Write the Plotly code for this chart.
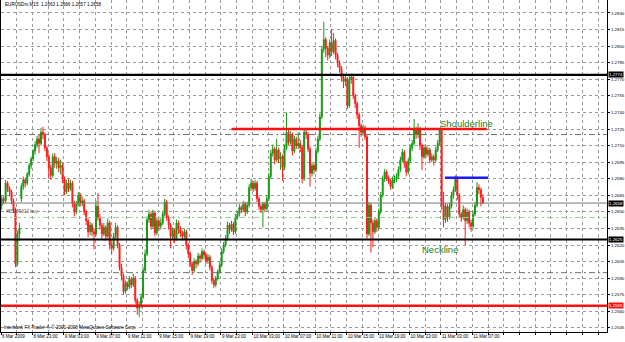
import plotly.graph_objects as go

# ---------------- data (EURUSDm, M15) ----------------
bar_open = [
    1.2656, 1.2662, 1.2660, 1.2676, 1.2671, 1.2668, 1.2660, 1.2652, 1.2603, 1.2630,
    1.2662, 1.2673, 1.2679, 1.2676, 1.2684, 1.2692, 1.2698, 1.2705, 1.2711, 1.2716,
    1.2712, 1.2722, 1.2720, 1.2708, 1.2700, 1.2690, 1.2683, 1.2700, 1.2694, 1.2696,
    1.2690, 1.2692, 1.2680, 1.2668, 1.2676, 1.2671, 1.2676, 1.2658, 1.2650, 1.2657,
    1.2665, 1.2658, 1.2660, 1.2650, 1.2642, 1.2632, 1.2638, 1.2632, 1.2630, 1.2655,
    1.2645, 1.2638, 1.2630, 1.2636, 1.2628, 1.2640, 1.2620, 1.2617, 1.2628, 1.2636,
    1.2620, 1.2600, 1.2592, 1.2578, 1.2585, 1.2582, 1.2589, 1.2584, 1.2590, 1.2570,
    1.2563, 1.2566, 1.2573, 1.2597, 1.2612, 1.2643, 1.2648, 1.2637, 1.2649, 1.2631,
    1.2642, 1.2637, 1.2640, 1.2648, 1.2659, 1.2645, 1.2638, 1.2628, 1.2633, 1.2626,
    1.2640, 1.2634, 1.2631, 1.2628, 1.2632, 1.2620, 1.2612, 1.2603, 1.2597, 1.2605,
    1.2603, 1.2610, 1.2608, 1.2614, 1.2611, 1.2606, 1.2609, 1.2600, 1.2588, 1.2584,
    1.2590, 1.2596, 1.2602, 1.2614, 1.2620, 1.2626, 1.2638, 1.2634, 1.2639, 1.2632,
    1.2645, 1.2648, 1.2654, 1.2652, 1.2657, 1.2650, 1.2656, 1.2672, 1.2676, 1.2671,
    1.2676, 1.2662, 1.2655, 1.2652, 1.2657, 1.2653, 1.2662, 1.2682, 1.2703, 1.2707,
    1.2697, 1.2706, 1.2698, 1.2700, 1.2690, 1.2708, 1.2722, 1.2713, 1.2720, 1.2705,
    1.2716, 1.2710, 1.2712, 1.2708, 1.2680, 1.2722, 1.2720, 1.2707, 1.2685, 1.2692,
    1.2688, 1.2705, 1.2716, 1.2736, 1.2797, 1.2806, 1.2798, 1.2792, 1.2803, 1.2795,
    1.2805, 1.2792, 1.2785, 1.2780, 1.2772, 1.2768, 1.2770, 1.2746, 1.2770, 1.2772,
    1.2755, 1.2748, 1.2738, 1.2728, 1.2722, 1.2726, 1.2718, 1.2630, 1.2656, 1.2640,
    1.2632, 1.2642, 1.2636, 1.2650, 1.2665, 1.2680, 1.2686, 1.2681, 1.2678, 1.2673,
    1.2679, 1.2680, 1.2682, 1.2688, 1.2697, 1.2704, 1.2694, 1.2686, 1.2696, 1.2708,
    1.2712, 1.2724, 1.2720, 1.2725, 1.2710, 1.2700, 1.2708, 1.2702, 1.2706, 1.2697,
    1.2700, 1.2697, 1.2706, 1.2712, 1.2724, 1.2656, 1.2643, 1.2655, 1.2645, 1.2655,
    1.2665, 1.2670, 1.2680, 1.2665, 1.2648, 1.2645, 1.2652, 1.2642, 1.2650, 1.2640,
    1.2637, 1.2648, 1.2656, 1.2672, 1.2670, 1.2663,
]
bar_high = [
    1.2665, 1.2664, 1.2679, 1.2678, 1.2673, 1.2670, 1.2662, 1.2654, 1.2633, 1.2640,
    1.2676, 1.2682, 1.2681, 1.2686, 1.2694, 1.2700, 1.2707, 1.2714, 1.2719, 1.2720,
    1.2726, 1.2727, 1.2722, 1.2710, 1.2703, 1.2693, 1.2703, 1.2703, 1.2700, 1.2699,
    1.2697, 1.2694, 1.2682, 1.2679, 1.2680, 1.2679, 1.2678, 1.2660, 1.2660, 1.2668,
    1.2667, 1.2664, 1.2662, 1.2652, 1.2644, 1.2641, 1.2640, 1.2635, 1.2660, 1.2667,
    1.2648, 1.2640, 1.2640, 1.2638, 1.2644, 1.2642, 1.2623, 1.2631, 1.2640, 1.2638,
    1.2622, 1.2603, 1.2594, 1.2588, 1.2587, 1.2592, 1.2591, 1.2594, 1.2592, 1.2572,
    1.2569, 1.2576, 1.2600, 1.2616, 1.2646, 1.2652, 1.2650, 1.2652, 1.2651, 1.2645,
    1.2644, 1.2644, 1.2651, 1.2662, 1.2661, 1.2647, 1.2640, 1.2636, 1.2635, 1.2643,
    1.2642, 1.2637, 1.2633, 1.2635, 1.2634, 1.2622, 1.2614, 1.2605, 1.2608, 1.2607,
    1.2613, 1.2612, 1.2617, 1.2616, 1.2613, 1.2612, 1.2611, 1.2602, 1.2590, 1.2592,
    1.2598, 1.2605, 1.2617, 1.2623, 1.2629, 1.2641, 1.2640, 1.2642, 1.2641, 1.2648,
    1.2651, 1.2657, 1.2656, 1.2660, 1.2659, 1.2659, 1.2675, 1.2680, 1.2678, 1.2679,
    1.2678, 1.2664, 1.2657, 1.2659, 1.2659, 1.2665, 1.2685, 1.2706, 1.2711, 1.2709,
    1.2716, 1.2708, 1.2704, 1.2702, 1.2711, 1.2740, 1.2724, 1.2723, 1.2722, 1.2719,
    1.2718, 1.2722, 1.2715, 1.2710, 1.2725, 1.2725, 1.2722, 1.2709, 1.2695, 1.2694,
    1.2708, 1.2719, 1.2739, 1.2800, 1.2822, 1.2808, 1.2800, 1.2806, 1.2815, 1.2812,
    1.2807, 1.2794, 1.2787, 1.2782, 1.2775, 1.2774, 1.2772, 1.2773, 1.2775, 1.2774,
    1.2757, 1.2750, 1.2740, 1.2730, 1.2729, 1.2728, 1.2720, 1.2659, 1.2658, 1.2643,
    1.2645, 1.2644, 1.2653, 1.2668, 1.2683, 1.2689, 1.2688, 1.2683, 1.2680, 1.2682,
    1.2683, 1.2685, 1.2691, 1.2700, 1.2707, 1.2706, 1.2696, 1.2699, 1.2711, 1.2715,
    1.2734, 1.2727, 1.2730, 1.2727, 1.2712, 1.2711, 1.2710, 1.2709, 1.2708, 1.2703,
    1.2702, 1.2709, 1.2715, 1.2726, 1.2726, 1.2668, 1.2658, 1.2657, 1.2658, 1.2668,
    1.2673, 1.2683, 1.2682, 1.2667, 1.2650, 1.2656, 1.2654, 1.2653, 1.2652, 1.2643,
    1.2651, 1.2659, 1.2677, 1.2675, 1.2672, 1.2666,
]
bar_low = [
    1.2652, 1.2657, 1.2658, 1.2668, 1.2664, 1.2657, 1.2649, 1.2600, 1.2601, 1.2624,
    1.2659, 1.2670, 1.2672, 1.2674, 1.2682, 1.2689, 1.2696, 1.2702, 1.2708, 1.2703,
    1.2710, 1.2716, 1.2705, 1.2696, 1.2680, 1.2679, 1.2681, 1.2690, 1.2689, 1.2686,
    1.2684, 1.2676, 1.2665, 1.2666, 1.2668, 1.2669, 1.2654, 1.2646, 1.2648, 1.2655,
    1.2655, 1.2655, 1.2647, 1.2638, 1.2627, 1.2629, 1.2628, 1.2616, 1.2628, 1.2642,
    1.2634, 1.2626, 1.2628, 1.2624, 1.2626, 1.2616, 1.2612, 1.2615, 1.2625, 1.2617,
    1.2597, 1.2588, 1.2575, 1.2576, 1.2579, 1.2580, 1.2581, 1.2582, 1.2567, 1.2557,
    1.2555, 1.2563, 1.2571, 1.2595, 1.2610, 1.2640, 1.2634, 1.2635, 1.2628, 1.2629,
    1.2633, 1.2634, 1.2638, 1.2646, 1.2642, 1.2634, 1.2617, 1.2625, 1.2622, 1.2624,
    1.2630, 1.2627, 1.2624, 1.2625, 1.2616, 1.2608, 1.2600, 1.2593, 1.2595, 1.2599,
    1.2601, 1.2604, 1.2606, 1.2607, 1.2603, 1.2603, 1.2597, 1.2585, 1.2581, 1.2582,
    1.2588, 1.2594, 1.2600, 1.2612, 1.2618, 1.2624, 1.2630, 1.2632, 1.2629, 1.2630,
    1.2643, 1.2646, 1.2649, 1.2650, 1.2646, 1.2648, 1.2654, 1.2669, 1.2668, 1.2669,
    1.2659, 1.2652, 1.2649, 1.2636, 1.2650, 1.2651, 1.2660, 1.2680, 1.2700, 1.2693,
    1.2695, 1.2694, 1.2688, 1.2678, 1.2688, 1.2706, 1.2710, 1.2711, 1.2701, 1.2703,
    1.2707, 1.2707, 1.2704, 1.2676, 1.2678, 1.2716, 1.2704, 1.2673, 1.2682, 1.2684,
    1.2686, 1.2703, 1.2714, 1.2734, 1.2794, 1.2790, 1.2787, 1.2789, 1.2791, 1.2793,
    1.2788, 1.2781, 1.2776, 1.2768, 1.2762, 1.2764, 1.2743, 1.2744, 1.2766, 1.2752,
    1.2744, 1.2734, 1.2708, 1.2718, 1.2719, 1.2715, 1.2626, 1.2628, 1.2613, 1.2618,
    1.2630, 1.2632, 1.2634, 1.2648, 1.2663, 1.2677, 1.2678, 1.2675, 1.2670, 1.2671,
    1.2676, 1.2677, 1.2680, 1.2686, 1.2695, 1.2690, 1.2682, 1.2684, 1.2694, 1.2705,
    1.2710, 1.2716, 1.2717, 1.2706, 1.2688, 1.2698, 1.2699, 1.2700, 1.2694, 1.2695,
    1.2692, 1.2695, 1.2704, 1.2710, 1.2652, 1.2636, 1.2640, 1.2641, 1.2643, 1.2653,
    1.2662, 1.2668, 1.2661, 1.2645, 1.2641, 1.2643, 1.2620, 1.2639, 1.2636, 1.2632,
    1.2635, 1.2646, 1.2654, 1.2666, 1.2655, 1.2657,
]
bar_close = [
    1.2662, 1.2660, 1.2676, 1.2671, 1.2668, 1.2660, 1.2652, 1.2603, 1.2630, 1.2635,
    1.2673, 1.2679, 1.2676, 1.2684, 1.2692, 1.2698, 1.2705, 1.2711, 1.2716, 1.2712,
    1.2722, 1.2720, 1.2708, 1.2700, 1.2690, 1.2683, 1.2700, 1.2694, 1.2696, 1.2690,
    1.2692, 1.2680, 1.2668, 1.2676, 1.2671, 1.2676, 1.2658, 1.2650, 1.2657, 1.2665,
    1.2658, 1.2660, 1.2650, 1.2642, 1.2632, 1.2638, 1.2632, 1.2630, 1.2655, 1.2645,
    1.2638, 1.2630, 1.2636, 1.2628, 1.2640, 1.2620, 1.2617, 1.2628, 1.2636, 1.2620,
    1.2600, 1.2592, 1.2578, 1.2585, 1.2582, 1.2589, 1.2584, 1.2590, 1.2570, 1.2563,
    1.2566, 1.2573, 1.2597, 1.2612, 1.2643, 1.2648, 1.2637, 1.2649, 1.2631, 1.2642,
    1.2637, 1.2640, 1.2648, 1.2659, 1.2645, 1.2638, 1.2628, 1.2633, 1.2626, 1.2640,
    1.2634, 1.2631, 1.2628, 1.2632, 1.2620, 1.2612, 1.2603, 1.2597, 1.2605, 1.2603,
    1.2610, 1.2608, 1.2614, 1.2611, 1.2606, 1.2609, 1.2600, 1.2588, 1.2584, 1.2590,
    1.2596, 1.2602, 1.2614, 1.2620, 1.2626, 1.2638, 1.2634, 1.2639, 1.2632, 1.2645,
    1.2648, 1.2654, 1.2652, 1.2657, 1.2650, 1.2656, 1.2672, 1.2676, 1.2671, 1.2676,
    1.2662, 1.2655, 1.2652, 1.2657, 1.2653, 1.2662, 1.2682, 1.2703, 1.2707, 1.2697,
    1.2706, 1.2698, 1.2700, 1.2690, 1.2708, 1.2722, 1.2713, 1.2720, 1.2705, 1.2716,
    1.2710, 1.2712, 1.2708, 1.2680, 1.2722, 1.2720, 1.2707, 1.2685, 1.2692, 1.2688,
    1.2705, 1.2716, 1.2736, 1.2797, 1.2806, 1.2798, 1.2792, 1.2803, 1.2795, 1.2805,
    1.2792, 1.2785, 1.2780, 1.2772, 1.2768, 1.2770, 1.2746, 1.2770, 1.2772, 1.2755,
    1.2748, 1.2738, 1.2728, 1.2722, 1.2726, 1.2718, 1.2630, 1.2656, 1.2640, 1.2632,
    1.2642, 1.2636, 1.2650, 1.2665, 1.2680, 1.2686, 1.2681, 1.2678, 1.2673, 1.2679,
    1.2680, 1.2682, 1.2688, 1.2697, 1.2704, 1.2694, 1.2686, 1.2696, 1.2708, 1.2712,
    1.2724, 1.2720, 1.2725, 1.2710, 1.2700, 1.2708, 1.2702, 1.2706, 1.2697, 1.2700,
    1.2697, 1.2706, 1.2712, 1.2724, 1.2656, 1.2643, 1.2655, 1.2645, 1.2655, 1.2665,
    1.2670, 1.2680, 1.2665, 1.2648, 1.2645, 1.2652, 1.2642, 1.2650, 1.2640, 1.2637,
    1.2648, 1.2656, 1.2672, 1.2670, 1.2663, 1.2658,
]

time_labels = ["6 Mar 2009", "8 Mar 23:00", "9 Mar 03:00", "9 Mar 07:00",
               "9 Mar 11:00", "9 Mar 15:00", "9 Mar 19:00", "9 Mar 23:00",
               "10 Mar 03:00", "10 Mar 07:00", "10 Mar 11:00", "10 Mar 15:00",
               "10 Mar 19:00", "10 Mar 23:00", "11 Mar 03:00", "11 Mar 07:00"]
price_ticks = [1.2545, 1.2560, 1.2575, 1.2590, 1.2605, 1.2620, 1.2635, 1.2650,
               1.2665, 1.2680, 1.2695, 1.2710, 1.2725, 1.2740, 1.2755, 1.2770,
               1.2785, 1.2800, 1.2815, 1.2830]

black_levels = [1.2774, 1.2625]
red_levels = [1.2565]
bid_price = 1.2658
order_price = 1.2645
order_sl_tp = [1.2720, 1.2595]

shoulder_x = [117, 247]
shoulder_y = [1.2725, 1.2725]
blue_x = [225.7, 247.6]
blue_y = [1.2681, 1.2681]

# ---------------- figure ----------------
bars = list(range(len(bar_close)))
FONT = "Liberation Sans, Arial, sans-serif"
GREEN = "#139a13"
RED = "#ff1a1a"
TXT_GREEN = "#237d23"

fig = go.Figure()
fig.add_trace(go.Candlestick(
    x=bars, open=bar_open, high=bar_high, low=bar_low, close=bar_close,
    increasing=dict(line=dict(color=GREEN, width=1), fillcolor=GREEN),
    decreasing=dict(line=dict(color=RED, width=1), fillcolor=RED),
    whiskerwidth=0, hoverinfo="skip", showlegend=False,
))
fig.add_trace(go.Scatter(x=shoulder_x, y=shoulder_y, mode="lines",
                         line=dict(color="#ff1010", width=2.5),
                         hoverinfo="skip", showlegend=False))
fig.add_trace(go.Scatter(x=blue_x, y=blue_y, mode="lines",
                         line=dict(color="#1a1aff", width=2.5),
                         hoverinfo="skip", showlegend=False))

shapes = []
for p in order_sl_tp:
    shapes.append(dict(type="line", xref="paper", x0=0, x1=1, yref="y", y0=p, y1=p,
                       line=dict(color="#707070", width=1, dash="6px,3px,2px,3px"),
                       layer="above"))
shapes.append(dict(type="line", xref="paper", x0=0, x1=1, yref="y", y0=order_price,
                   y1=order_price, line=dict(color="#8fd08f", width=1,
                                             dash="6px,3px,2px,3px"), layer="above"))
shapes.append(dict(type="line", xref="paper", x0=0, x1=1, yref="y", y0=bid_price,
                   y1=bid_price, line=dict(color="#777777", width=1), layer="above"))
for p in black_levels:
    shapes.append(dict(type="line", xref="paper", x0=0, x1=1, yref="y", y0=p, y1=p,
                       line=dict(color="#000000", width=2.2), layer="above"))
for p in red_levels:
    shapes.append(dict(type="line", xref="paper", x0=0, x1=1, yref="y", y0=p, y1=p,
                       line=dict(color="#ff1010", width=2.5), layer="above"))

annotations = []
for p in black_levels + [bid_price]:
    annotations.append(dict(xref="paper", x=1, xanchor="left", xshift=1, yref="y", y=p,
                            text=f"{p:.4f}", showarrow=False, bgcolor="#000000",
                            font=dict(family=FONT, size=4.4, color="white"), borderpad=0))
for p in red_levels:
    annotations.append(dict(xref="paper", x=1, xanchor="left", xshift=1, yref="y", y=p,
                            text=f"{p:.4f}", showarrow=False, bgcolor="#ff1010",
                            font=dict(family=FONT, size=4.4, color="white"), borderpad=0))
annotations.append(dict(xref="paper", yref="paper", x=0.0033, y=0.985, xanchor="left",
                        yanchor="middle", showarrow=False,
                        text="EURUSDm,M15  1.2663 1.2666 1.2657 1.2658",
                        font=dict(family=FONT, size=4.6, color="#000000")))
annotations.append(dict(xref="paper", yref="paper", x=0.002, y=0.015, xanchor="left",
                        yanchor="middle", showarrow=False,
                        text="Interbank FX Trader 4, © 2001-2008 MetaQuotes Software Corp.",
                        font=dict(family=FONT, size=4.6, color="#000000")))
annotations.append(dict(xref="paper", yref="y", x=0.005, y=order_price, xanchor="left",
                        yanchor="bottom", yshift=1, showarrow=False,
                        text="#55189312 buy",
                        font=dict(family=FONT, size=4.6, color="#555555")))
annotations.append(dict(xref="x", yref="y", x=236.5, y=1.2730, showarrow=False,
                        text="Shoulderline",
                        font=dict(family=FONT, size=9.5, color=TXT_GREEN)))
annotations.append(dict(xref="x", yref="y", x=223.2, y=1.26164, showarrow=False,
                        text="Neckline",
                        font=dict(family=FONT, size=9.5, color=TXT_GREEN)))

grid_x = [-0.35 + 8 * j for j in range(39)]
grid_text = [time_labels[j // 2] if (j % 2 == 0 and j // 2 < len(time_labels)) else ""
             for j in range(39)]

fig.update_layout(
    width=625, height=342,
    margin=dict(l=1, r=18, t=0, b=10),
    paper_bgcolor="white", plot_bgcolor="white",
    shapes=shapes, annotations=annotations,
    font=dict(family=FONT, size=4.5, color="#000000"),
    xaxis=dict(range=[-0.36, 308.2], rangeslider=dict(visible=False),
               tickmode="array", tickvals=grid_x, ticktext=grid_text, tickangle=0,
               ticklabelposition="outside right", ticks="outside", ticklen=2,
               tickcolor="#000000", tickfont=dict(family=FONT, size=4.5),
               showgrid=True, gridcolor="#9a9a9a", griddash="dot", gridwidth=1,
               showline=True, linecolor="#000000", linewidth=1,
               zeroline=False, automargin=False, fixedrange=True),
    yaxis=dict(range=[1.254131, 1.284176], side="right",
               tickmode="array", tickvals=price_ticks,
               ticktext=[f"{v:.4f}" for v in price_ticks],
               ticks="outside", ticklen=2, tickcolor="#000000",
               tickfont=dict(family=FONT, size=4.4),
               showgrid=True, gridcolor="#9a9a9a", griddash="dot", gridwidth=1,
               showline=True, linecolor="#000000", linewidth=1, mirror=True,
               zeroline=False, automargin=False, fixedrange=True),
)

fig.write_html("out.html")
